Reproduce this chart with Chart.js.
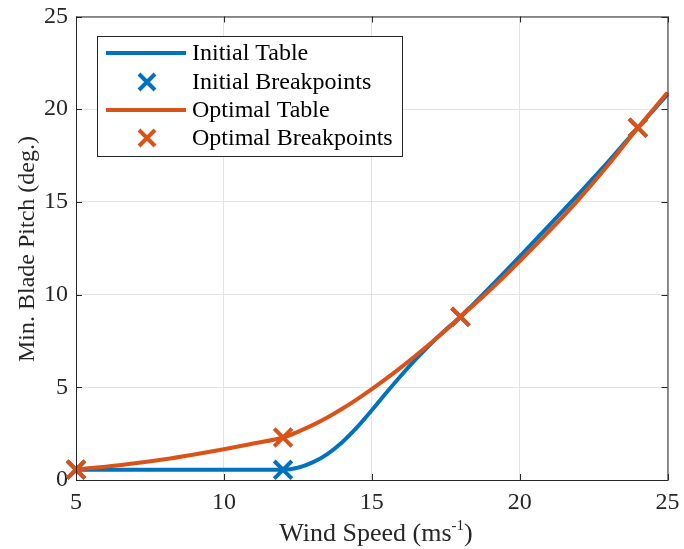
<!DOCTYPE html>
<html>
<head>
<meta charset="utf-8">
<script src="https://cdn.jsdelivr.net/npm/chart.js@4.4.1/dist/chart.umd.min.js"></script>
<style>
  html, body { margin: 0; padding: 0; background: #fff; }
  #wrap { width: 684px; height: 549px; }
</style>
</head>
<body>
<div id="wrap"><canvas id="chart" width="684" height="549"></canvas></div>
<script>
// Min. blade pitch schedule vs wind speed

const initialX = [5, 6, 7, 8, 9, 10, 11, 12, 12.5, 13, 13.5, 14, 14.5, 15, 15.5, 16, 16.5, 17, 17.5, 18, 19, 20, 21, 22, 23, 24, 25];
const initialY = [0.55, 0.55, 0.55, 0.55, 0.55, 0.55, 0.55, 0.55, 0.66, 0.95, 1.4, 2.04, 2.84, 3.76, 4.72, 5.65, 6.53, 7.35, 8.1, 8.8, 10.4, 12.05, 13.73, 15.43, 17.17, 19.0, 20.8];
const optimalX = [5, 6, 7, 8, 9, 10, 11, 12, 12.5, 13, 13.5, 14, 14.5, 15, 15.5, 16, 16.5, 17, 17.5, 18, 19, 20, 21, 22, 23, 24, 25];
const optimalY = [0.57, 0.72, 0.9, 1.12, 1.38, 1.66, 1.97, 2.29, 2.6, 2.96, 3.37, 3.84, 4.35, 4.9, 5.48, 6.09, 6.73, 7.39, 8.08, 8.8, 10.25, 11.8, 13.42, 15.14, 17.0, 19.0, 20.9];
const initialBpX = [5, 12, 18, 24];
const initialBpY = [0.55, 0.55, 8.8, 19.0];
const optimalBpX = [5, 12, 18, 24];
const optimalBpY = [0.57, 2.29, 8.8, 19.0];
const xTicks = [5, 10, 15, 20, 25];
const yTicks = [0, 5, 10, 15, 20, 25];
const legendLabels = ['Initial Table', 'Initial Breakpoints', 'Optimal Table', 'Optimal Breakpoints'];

const BLUE = '#0072BD';
const ORANGE = '#D95319';
const AXIS = '#262626';
const FONT = '"Liberation Serif", "Times New Roman", serif';

function pts(xs, ys) {
  return xs.map((x, i) => ({ x: x, y: ys[i] }));
}

function drawCross(ctx, x, y, r, color) {
  ctx.save();
  ctx.strokeStyle = color;
  ctx.lineWidth = 4;
  ctx.beginPath();
  ctx.moveTo(x - r, y - r); ctx.lineTo(x + r, y + r);
  ctx.moveTo(x - r, y + r); ctx.lineTo(x + r, y - r);
  ctx.stroke();
  ctx.restore();
}

// no extra room for overhanging tick labels; plot box is set by layout padding
function noOverhang(s) {
  s.paddingTop = 0; s.paddingBottom = 0;
  s.paddingLeft = 0; s.paddingRight = 0;
}

// box, inward ticks, axis titles, legend
const decorations = {
  id: 'decorations',
  afterDraw(chart) {
    const ctx = chart.ctx;
    const a = chart.chartArea;
    const xs = chart.scales.x, ys = chart.scales.y;
    ctx.save();
    ctx.strokeStyle = AXIS;
    ctx.lineWidth = 1;
    ctx.strokeRect(a.left + 0.5, a.top + 0.5, a.right - a.left, a.bottom - a.top);
    ctx.beginPath();
    xTicks.forEach(v => {
      const px = Math.round(xs.getPixelForValue(v)) + 0.5;
      ctx.moveTo(px, a.bottom); ctx.lineTo(px, a.bottom - 6);
      ctx.moveTo(px, a.top); ctx.lineTo(px, a.top + 6);
    });
    yTicks.forEach(v => {
      const py = Math.round(ys.getPixelForValue(v)) + 0.5;
      ctx.moveTo(a.left, py); ctx.lineTo(a.left + 6, py);
      ctx.moveTo(a.right, py); ctx.lineTo(a.right - 6, py);
    });
    ctx.stroke();

    // axis titles
    ctx.fillStyle = AXIS;
    ctx.textBaseline = 'alphabetic';
    const main = 'Wind Speed (ms';
    const sup = '-1';
    const close = ')';
    ctx.font = '26px ' + FONT;
    const w1 = ctx.measureText(main).width;
    const w3 = ctx.measureText(close).width;
    ctx.font = '15px ' + FONT;
    const w2 = ctx.measureText(sup).width;
    let sx = 376 - (w1 + w2 + w3) / 2;
    const by = 541;
    ctx.textAlign = 'left';
    ctx.font = '26px ' + FONT;
    ctx.fillText(main, sx, by);
    ctx.font = '15px ' + FONT;
    ctx.fillText(sup, sx + w1, by - 11);
    ctx.font = '26px ' + FONT;
    ctx.fillText(close, sx + w1 + w2, by);

    ctx.font = '24px ' + FONT;
    ctx.save();
    ctx.translate(34, 249);
    ctx.rotate(-Math.PI / 2);
    ctx.textAlign = 'center';
    ctx.fillText('Min. Blade Pitch (deg.)', 0, 0);
    ctx.restore();

    // legend
    const lx = 97, ly = 36, lw = 305, lh = 120;
    ctx.fillStyle = '#fff';
    ctx.fillRect(lx, ly, lw, lh);
    ctx.strokeStyle = AXIS;
    ctx.lineWidth = 1;
    ctx.strokeRect(lx + 0.5, ly + 0.5, lw, lh);
    const rows = [53, 82, 110, 138];
    const colors = [BLUE, BLUE, ORANGE, ORANGE];
    legendLabels.forEach((t, i) => {
      const y = rows[i];
      if (i % 2 === 0) {
        ctx.strokeStyle = colors[i];
        ctx.lineWidth = 4;
        ctx.beginPath();
        ctx.moveTo(106, y); ctx.lineTo(186, y);
        ctx.stroke();
      } else {
        drawCross(ctx, 147, y, 8, colors[i]);
      }
      ctx.fillStyle = '#000';
      ctx.font = '24px ' + FONT;
      ctx.textAlign = 'left';
      ctx.textBaseline = 'middle';
      ctx.fillText(t, 192, y + 1);
    });
    ctx.restore();
  }
};

new Chart(document.getElementById('chart'), {
  type: 'line',
  data: {
    datasets: [
      {
        label: legendLabels[0], data: pts(initialX, initialY),
        borderColor: BLUE, borderWidth: 4, pointRadius: 0,
        cubicInterpolationMode: 'monotone', order: 4, clip: false
      },
      {
        label: legendLabels[1], data: pts(initialBpX, initialBpY),
        showLine: false, pointStyle: 'crossRot', pointRadius: 12.5,
        pointBorderWidth: 4, pointBorderColor: BLUE, borderColor: BLUE, order: 3, clip: false
      },
      {
        label: legendLabels[2], data: pts(optimalX, optimalY),
        borderColor: ORANGE, borderWidth: 4, pointRadius: 0,
        cubicInterpolationMode: 'monotone', order: 2, clip: false
      },
      {
        label: legendLabels[3], data: pts(optimalBpX, optimalBpY),
        showLine: false, pointStyle: 'crossRot', pointRadius: 12.5,
        pointBorderWidth: 4, pointBorderColor: ORANGE, borderColor: ORANGE, order: 1, clip: false
      }
    ]
  },
  options: {
    responsive: false,
    animation: false,
    layout: { padding: { left: 0, top: 15, right: 12, bottom: 0 } },
    plugins: { legend: { display: false }, tooltip: { enabled: false } },
    scales: {
      x: {
        type: 'linear', min: 5, max: 25,
        afterBuildTicks: s => { s.ticks = xTicks.map(v => ({ value: v })); },
        afterFit: s => { s.height = 69; noOverhang(s); },
        grid: { color: '#e3e3e3', drawTicks: false },
        border: { display: false },
        ticks: { color: AXIS, font: { family: FONT, size: 24 }, padding: 8, maxRotation: 0 }
      },
      y: {
        type: 'linear', min: 0, max: 25,
        afterBuildTicks: s => { s.ticks = yTicks.map(v => ({ value: v })); },
        afterFit: s => { s.width = 76; noOverhang(s); },
        grid: { color: '#e3e3e3', drawTicks: false },
        border: { display: false },
        ticks: { color: AXIS, font: { family: FONT, size: 24 }, padding: 8 }
      }
    }
  },
  plugins: [decorations]
});
</script>
</body>
</html>
